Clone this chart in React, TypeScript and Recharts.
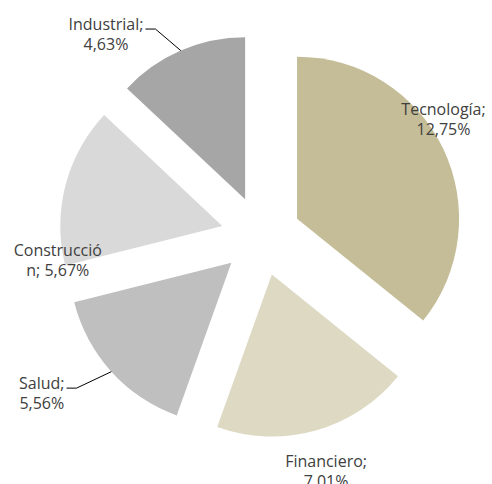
import { PieChart, Pie, Cell } from "recharts"

// data
const categories = ["Tecnología", "Financiero", "Salud", "Construcción", "Industrial"]
const shares = [12.75, 7.01, 5.56, 5.67, 4.63]
const labelText = [
  ["Tecnología;", "12,75%"],
  ["Financiero;", "7,01%"],
  ["Salud;", "5,56%"],
  ["Construcció", "n; 5,67%"],
  ["Industrial;", "4,63%"],
]

// styles / layout
const colors = ["#C4BD97", "#DDD9C3", "#BFBFBF", "#D9D9D9", "#A6A6A6"]
const labelPlace = [
  { gap: 15, shift: -8.6, leader: false },
  { gap: 42, shift: 0.3, leader: false },
  { gap: 68, shift: 7.7, leader: true },
  { gap: 6, shift: -26.3, leader: false },
  { gap: 54, shift: -16.7, leader: true },
]

const W = 492
const H = 484
const CX = 261
const CY = 236
const R = 162
const EXPLODE = 40
const FONT_SIZE = 16
const FONT_FAMILY = '"Open Sans", sans-serif'
const LINE = 20

const rows = categories.map((name, i) => ({ name, value: shares[i] }))
const total = shares.reduce((a, b) => a + b, 0)
// middle of each slice, degrees clockwise from 12 o'clock
const midCw = shares.map((v, i) => {
  const before = shares.slice(0, i).reduce((a, b) => a + b, 0)
  return ((before + v / 2) / total) * 360
})

let ctx: CanvasRenderingContext2D | null = null
function textWidth(s: string) {
  if (!ctx) ctx = document.createElement("canvas").getContext("2d")
  if (!ctx) return s.length * 8
  ctx.font = `${FONT_SIZE}px ${FONT_FAMILY}`
  return ctx.measureText(s).width
}

function makeLabel(i: number) {
  return (props: any) => {
    if (props.index !== i) return null
    const { cx, cy, outerRadius, midAngle } = props
    const mid = 90 - midAngle
    const p = labelPlace[i]
    const a = ((mid + p.shift) * Math.PI) / 180
    const r = outerRadius + p.gap
    const lx = cx + r * Math.sin(a)
    const ly = cy - r * Math.cos(a)
    const [l1, l2] = labelText[i]
    let leader = null
    if (p.leader) {
      const m = (mid * Math.PI) / 180
      const ax = cx + outerRadius * Math.sin(m)
      const ay = cy - outerRadius * Math.cos(m)
      const ex = lx + textWidth(l1) / 2 + 2
      const ey = ly - LINE / 2 + 5
      leader = (
        <polyline
          points={`${ex},${ey} ${ex + 10},${ey} ${ax},${ay}`}
          fill="none"
          stroke="#000"
          strokeWidth={1}
        />
      )
    }
    return (
      <g key={`lbl-${i}`}>
        {leader}
        <text
          x={lx}
          y={ly}
          textAnchor="middle"
          fill="#404040"
          fontSize={FONT_SIZE}
          fontFamily={FONT_FAMILY}
        >
          <tspan x={lx} y={ly - LINE / 2} dominantBaseline="central">{l1}</tspan>
          <tspan x={lx} y={ly + LINE / 2} dominantBaseline="central">{l2}</tspan>
        </text>
      </g>
    )
  }
}

export default function App() {
  return (
    <div style={{ position: "absolute", left: 0, top: 0, width: W, height: H, background: "#fff" }}>
      <PieChart width={W} height={H} margin={{ top: 0, right: 0, bottom: 0, left: 0 }}>
        {categories.map((_, i) => {
          const m = (midCw[i] * Math.PI) / 180
          return (
            <Pie
              key={categories[i]}
              data={rows}
              dataKey="value"
              nameKey="name"
              cx={CX + EXPLODE * Math.sin(m)}
              cy={CY - EXPLODE * Math.cos(m)}
              outerRadius={R}
              startAngle={90}
              endAngle={-270}
              stroke="none"
              label={makeLabel(i)}
              labelLine={false}
              isAnimationActive={false}
            >
              {rows.map((_, j) => (
                <Cell key={j} fill={j === i ? colors[i] : "none"} stroke="none" />
              ))}
            </Pie>
          )
        })}
      </PieChart>
    </div>
  )
}
